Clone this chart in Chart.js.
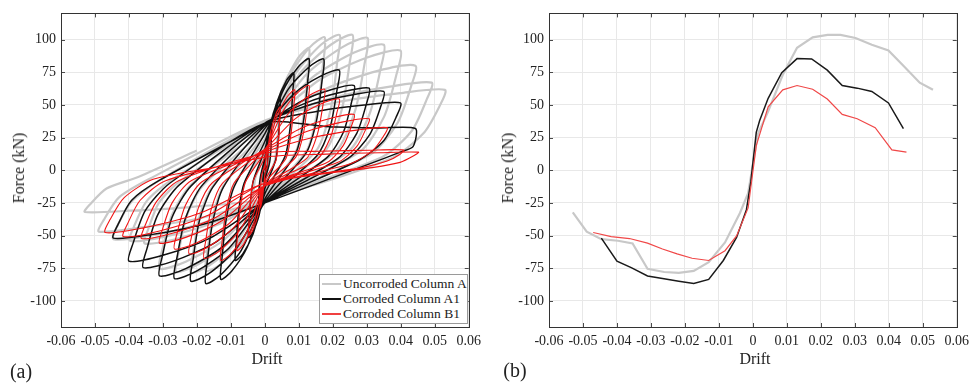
<!DOCTYPE html>
<html>
<head>
<meta charset="utf-8">
<script src="https://cdn.jsdelivr.net/npm/chart.js@4.4.1/dist/chart.umd.min.js"></script>
<style>
  body { margin: 0; background: #fff; }
  #wrap { position: relative; width: 975px; height: 385px; overflow: hidden; font-family: "Liberation Serif", "Times New Roman", serif; color: #222; }
  canvas { position: absolute; top: 0; }
  .lbl { position: absolute; white-space: nowrap; font-size: 16px; line-height: 16px; }
  .ytitle { transform: translate(-50%, -50%) rotate(-90deg); }
  .xtitle { transform: translate(-50%, -50%); }
  .panel { position: absolute; font-size: 20px; line-height: 20px; transform: translate(-50%, -50%); }
  #legend { position: absolute; left: 319px; top: 274px; width: 147px; height: 48px; border: 1px solid #9a9a9a; background: #fff; font-size: 13.5px; }
  #legend div { position: absolute; left: 2px; height: 15px; line-height: 15px; white-space: nowrap; }
  #legend span { display: inline-block; width: 19px; vertical-align: middle; margin-right: 2px; margin-top: -2px; }
</style>
</head>
<body>
<div id="wrap">
  <canvas id="hyst" width="487" height="385" style="left:0"></canvas>
  <canvas id="env" width="487" height="385" style="left:488px"></canvas>

  <div class="lbl ytitle" style="left:19px; top:168px">Force (kN)</div>
  <div class="lbl xtitle" style="left:267px; top:359px">Drift</div>
  <div class="panel" style="left:21px; top:371px">(a)</div>

  <div class="lbl ytitle" style="left:508px; top:168px">Force (kN)</div>
  <div class="lbl xtitle" style="left:755px; top:359px">Drift</div>
  <div class="panel" style="left:515px; top:370px">(b)</div>

  <div id="legend">
    <div style="top:1px"><span style="border-top:2px solid #c8c8c8"></span>Uncorroded Column A</div>
    <div style="top:16px"><span style="border-top:2px solid #111"></span>Corroded Column A1</div>
    <div style="top:31px"><span style="border-top:2px solid #f04040"></span>Corroded Column B1</div>
  </div>
</div>

<script>
const seriesNames = ['Uncorroded Column A', 'Corroded Column A1', 'Corroded Column B1'];
const xTicks = [-0.06, 0.06, 0.01];   // min, max, step
const yTicks = [-120, 120, 25];

// (a) hysteresis loops, [drift, force kN], one line per cycle
const hystA = [
  [0,0],
  [0.0006,17],[0.0011,25],[0.0015,28],[0.0014,22],[0.0013,13],[0.0011,4],[0,-5],[-0.0006,-13],[-0.0011,-16],[-0.0014,-17.6],[-0.0014,-14],[-0.0012,-8],[-0.001,-3],[0,6],
  [0.0016,26],[0.003,37],[0.004,40],[0.0039,32],[0.0035,18],[0.0028,6],[0,-10],[-0.0015,-24],[-0.0029,-30],[-0.0038,-32.7],[-0.0037,-26],[-0.0033,-15],[-0.0027,-5],[0,12],
  [0.0035,49],[0.0066,67],[0.0088,73],[0.0085,58],[0.0077,33],[0.0062,11],[0,-16],[-0.0033,-40],[-0.0062,-51],[-0.0082,-55.3],[-0.008,-44],[-0.0072,-25],[-0.0057,-8],[0,18],
  [0.0052,63],[0.0098,86],[0.013,93.5],[0.0126,75],[0.0114,42],[0.0091,14],[0,-20],[-0.0052,-50],[-0.0098,-65],[-0.013,-70.4],[-0.0126,-56],[-0.0114,-32],[-0.0091,-11],[0,24],
  [0.007,71],[0.0132,94],[0.0176,101.7],[0.0171,81],[0.0155,46],[0.0123,15],[0,-22],[-0.007,-55],[-0.013,-72],[-0.0174,-77.1],[-0.0169,-62],[-0.0153,-35],[-0.0122,-12],[0,28],
  [0.0088,73],[0.0165,96],[0.022,103.5],[0.0213,83],[0.0194,47],[0.0154,16],[0,-22],[-0.0087,-56],[-0.0164,-73],[-0.0218,-78.6],[-0.0211,-63],[-0.0192,-35],[-0.0153,-12],[0,30],
  [0.0103,74],[0.0194,96],[0.0258,103.5],[0.025,83],[0.0227,47],[0.0181,16],[0,-22],[-0.0104,-55],[-0.0196,-72],[-0.0261,-77.9],[-0.0253,-62],[-0.023,-35],[-0.0183,-12],[0,32],
  [0.0121,73],[0.0227,94],[0.0302,101.2],[0.0293,81],[0.0266,46],[0.0211,15],[0,-22],[-0.0124,-54],[-0.0233,-70],[-0.031,-75.4],[-0.0301,-60],[-0.0273,-34],[-0.0217,-11],[0,34],
  [0.014,71],[0.0263,90],[0.035,96],[0.034,77],[0.0308,43],[0.0245,14],[0,-22],[-0.0142,-42],[-0.0266,-53],[-0.0354,-56],[-0.0343,-45],[-0.0312,-25],[-0.0248,-8],[0,35],
  [0.016,69],[0.0299,86],[0.0399,91.6],[0.0387,73],[0.0351,41],[0.0279,14],[0,-22],[-0.0159,-41],[-0.0298,-51],[-0.0397,-54],[-0.0385,-43],[-0.0349,-24],[-0.0278,-8],[0,36],
  [0.0177,62],[0.0332,76],[0.0443,80],[0.043,64],[0.039,36],[0.031,12],[0,-22],[-0.0178,-40],[-0.0335,-50],[-0.0446,-52.8],[-0.0433,-42],[-0.0392,-24],[-0.0312,-8],[0,37],
  [0.0196,55],[0.0368,64],[0.0491,67],[0.0476,54],[0.0432,30],[0.0344,10],[0,-22],[-0.0196,-37],[-0.0367,-44],[-0.0489,-47],[-0.0474,-38],[-0.043,-21],[-0.0342,-7],[0,38],
  [0.0212,52],[0.0398,59],[0.053,61.5],[0.0514,49],[0.0466,28],[0.0371,9],[0,-22],[-0.0212,-28],[-0.0398,-31],[-0.053,-32],[-0.0514,-26],[-0.0466,-14],[-0.0371,-5],[-0.02,15]
];
const hystA1 = [
  [0,0],
  [0.0004,17],[0.00075,26],[0.001,29],[0.00097,23],[0.00088,13],[0.0007,4],[0,-3],[-0.00024,-6.5],[-0.00045,-8.2],[-0.0006,-8.8],[-0.0006,-7],[-0.0005,-4],[-0.0004,-1],[0,5],
  [0.0008,25],[0.0015,35],[0.002,38],[0.0019,30],[0.0018,17],[0.0014,6],[0,-8],[-0.00076,-21],[-0.0014,-28],[-0.0019,-30.2],[-0.0018,-24],[-0.0017,-14],[-0.0013,-5],[0,10],
  [0.0018,37],[0.0034,50.5],[0.0045,55],[0.0044,44],[0.004,25],[0.0032,8],[0,-14],[-0.0019,-36.5],[-0.0036,-47.8],[-0.0048,-51.5],[-0.0047,-41],[-0.0042,-23],[-0.0034,-8],[0,16],
  [0.0034,51],[0.0064,69],[0.0085,74.6],[0.0082,60],[0.0075,34],[0.006,11],[0,-18],[-0.0035,-49],[-0.0065,-64],[-0.0087,-69.1],[-0.0084,-55],[-0.0077,-31],[-0.0061,-10],[0,22],
  [0.0052,60],[0.0098,79],[0.013,85.4],[0.0126,68],[0.0114,38],[0.0091,13],[0,-22],[-0.0052,-59],[-0.0098,-77.4],[-0.013,-83.6],[-0.0126,-67],[-0.0114,-38],[-0.0091,-13],[0,28],
  [0.0069,62],[0.013,79],[0.0173,85.1],[0.0168,68],[0.0152,38],[0.0121,13],[0,-24],[-0.007,-61.6],[-0.0131,-80.4],[-0.0174,-86.7],[-0.0169,-69],[-0.0153,-39],[-0.0122,-13],[0,32],
  [0.0088,59],[0.0164,72],[0.0219,76.6],[0.0212,61],[0.0193,34],[0.0153,11],[0,-25],[-0.0087,-61],[-0.0164,-79],[-0.0218,-84.9],[-0.0211,-68],[-0.0192,-38],[-0.0153,-13],[0,34],
  [0.0105,52.5],[0.0197,61.7],[0.0263,64.8],[0.0255,52],[0.0231,29],[0.0184,10],[0,-25],[-0.0106,-59.7],[-0.02,-77.1],[-0.0266,-82.9],[-0.0258,-66],[-0.0234,-37],[-0.0186,-12],[0,35],
  [0.0123,51.7],[0.023,60],[0.0307,62.8],[0.0298,50],[0.027,28],[0.0215,9],[0,-25],[-0.0124,-58.5],[-0.0233,-75.3],[-0.031,-80.9],[-0.0301,-65],[-0.0273,-36],[-0.0217,-12],[0,36],
  [0.014,50.6],[0.0263,57.9],[0.035,60.3],[0.034,48],[0.0308,27],[0.0245,9],[0,-25],[-0.0143,-54.8],[-0.0269,-69.6],[-0.0358,-74.6],[-0.0347,-60],[-0.0315,-34],[-0.0251,-11],[0,36],
  [0.016,45.3],[0.0299,50],[0.0399,51.5],[0.0387,41],[0.0351,23],[0.0279,8],[0,-25],[-0.016,-51.8],[-0.03,-65.1],[-0.04,-69.6],[-0.0388,-56],[-0.0352,-31],[-0.028,-10],[0,36],
  [0.0177,33.5],[0.0332,32.3],[0.0443,31.9],[0.0436,18],[0.04,14],[0.031,5],[0,-25],[-0.0178,-41.2],[-0.0335,-49.3],[-0.0446,-52],[-0.0433,-42],[-0.0392,-23],[-0.0312,-8],[0,36]
];
const hystB1 = [
  [0,0],
  [0.0004,11.3],[0.00075,16.9],[0.001,18.8],[0.00097,15],[0.00088,8.5],[0.0007,3],[0,-3],[-0.00056,-18.5],[-0.00105,-26.3],[-0.0014,-28.9],[-0.0014,-23],[-0.0012,-13],[-0.001,-4],[0,4],
  [0.0018,30.7],[0.0034,44],[0.0045,48.5],[0.0044,39],[0.004,22],[0.0032,7],[0,-8],[-0.0019,-33.4],[-0.0036,-46.1],[-0.0048,-50.3],[-0.0047,-40],[-0.0042,-23],[-0.0034,-8],[0,10],
  [0.0035,40.9],[0.0066,56.4],[0.0088,61.5],[0.0085,49],[0.0077,28],[0.0062,9],[0,-10],[-0.0033,-41],[-0.0062,-56.4],[-0.0082,-61.6],[-0.008,-49],[-0.0072,-28],[-0.0057,-9],[0,14],
  [0.0052,44.5],[0.0098,59.7],[0.013,64.8],[0.0126,52],[0.0114,29],[0.0091,10],[0,-12],[-0.0052,-46.3],[-0.0098,-63.4],[-0.013,-69.1],[-0.0126,-55],[-0.0114,-31],[-0.0091,-10],[0,16],
  [0.007,43.6],[0.0132,57.4],[0.0176,62],[0.0171,50],[0.0155,28],[0.0123,9],[0,-12],[-0.0072,-45.2],[-0.0134,-61.9],[-0.0179,-67.4],[-0.0174,-54],[-0.0158,-30],[-0.0125,-10],[0,16],
  [0.0088,39.1],[0.0164,50.7],[0.0219,54.5],[0.0212,44],[0.0193,25],[0.0153,8],[0,-12],[-0.0089,-43.2],[-0.0167,-58.8],[-0.0223,-64],[-0.0216,-51],[-0.0196,-29],[-0.0156,-10],[0,16],
  [0.0105,32],[0.0197,40],[0.0263,42.7],[0.0255,34],[0.0231,19],[0.0184,6],[0,-12],[-0.0106,-41],[-0.02,-55.5],[-0.0266,-60.3],[-0.0258,-48],[-0.0234,-27],[-0.0186,-9],[0,15],
  [0.0123,29.6],[0.023,37],[0.0307,39.4],[0.0298,32],[0.027,18],[0.0215,6],[0,-12],[-0.0124,-38.3],[-0.0233,-51.4],[-0.031,-55.8],[-0.0301,-45],[-0.0273,-25],[-0.0217,-8],[0,14],
  [0.0144,25.2],[0.027,30.7],[0.036,32.6],[0.0349,26],[0.0317,15],[0.0252,5],[0,-12],[-0.0145,-36.2],[-0.0272,-48.3],[-0.0363,-52.3],[-0.0352,-42],[-0.0319,-24],[-0.0254,-8],[0,13],
  [0.0164,14.5],[0.0307,15.3],[0.0409,15.5],[0.0397,12],[0.036,7],[0.0286,2],[0,-10],[-0.0167,-34.5],[-0.0313,-46.7],[-0.0417,-50.8],[-0.0404,-41],[-0.0367,-23],[-0.0292,-8],[0,10],
  [0.0181,12.3],[0.0339,13.4],[0.0452,13.8],[0.0438,11],[0.0398,6],[0.0316,2],[0,-10],[-0.0188,-32.6],[-0.0353,-43.9],[-0.047,-47.7],[-0.0456,-38],[-0.0414,-21],[-0.0329,-7],[-0.015,2]
];

// (b) envelope curves
const envDriftA = [-0.053,-0.0489,-0.0446,-0.0397,-0.0354,-0.031,-0.0261,-0.0218,-0.0174,-0.013,-0.0082,-0.0038,-0.0014,
                   0.0015,0.0045,0.0088,0.013,0.0176,0.022,0.0258,0.0302,0.035,0.0399,0.0443,0.0491,0.053];
const envForceA = [-32.2,-47,-52.8,-54,-56,-75.4,-77.9,-78.6,-77.1,-70.4,-55.3,-32.7,-17.6,
                   28,45,73,93.7,101.7,103.5,103.5,101.2,96,91.6,80,67,61.5];
const envDriftA1 = [-0.0446,-0.04,-0.0358,-0.031,-0.0266,-0.0218,-0.0174,-0.013,-0.0087,-0.0048,-0.0019,-0.0006,
                    0.001,0.002,0.0045,0.0085,0.013,0.0173,0.0219,0.0263,0.0307,0.035,0.0399,0.0443];
const envForceA1 = [-52,-69.6,-74.6,-80.9,-82.9,-84.9,-86.7,-83.6,-69.1,-51.5,-30.2,-8.8,
                    29,38,55,74.6,85.4,85.1,76.6,64.8,62.8,60.3,51.5,31.9];
const envDriftB1 = [-0.047,-0.0417,-0.0363,-0.031,-0.0266,-0.0223,-0.0179,-0.013,-0.0082,-0.0048,-0.0014,
                    0.001,0.0045,0.0088,0.013,0.0176,0.0219,0.0263,0.0307,0.036,0.0409,0.0452];
const envForceB1 = [-47.7,-50.8,-52.3,-55.8,-60.3,-64,-67.4,-69.1,-61.6,-50.3,-28.9,
                    18.8,48.5,61.5,64.8,62,54.5,42.7,39.4,32.6,15.5,13.8];

const font = { family: '"Liberation Serif", "Times New Roman", serif', size: 14 };

function pairs(xs, ys) {
  return xs.map((x, i) => ({ x: x, y: ys[i] }));
}

function fmtDrift(v) {
  return Math.abs(v) < 1e-9 ? '0' : v.toFixed(2);
}

// box around the plot and inward tick marks, MATLAB style
const boxTicks = {
  id: 'boxTicks',
  afterDatasetsDraw(chart) {
    const { ctx, chartArea: a, scales } = chart;
    ctx.save();
    ctx.strokeStyle = '#4a4a4a';
    ctx.lineWidth = 1;
    ctx.beginPath();
    scales.x.ticks.forEach(t => {
      const px = Math.round(scales.x.getPixelForValue(t.value)) + 0.5;
      ctx.moveTo(px, a.bottom); ctx.lineTo(px, a.bottom - 4);
      ctx.moveTo(px, a.top); ctx.lineTo(px, a.top + 4);
    });
    scales.y.ticks.forEach(t => {
      const py = Math.round(scales.y.getPixelForValue(t.value)) + 0.5;
      ctx.moveTo(a.left, py); ctx.lineTo(a.left + 4, py);
      ctx.moveTo(a.right, py); ctx.lineTo(a.right - 4, py);
    });
    ctx.stroke();
    ctx.strokeStyle = '#333';
    ctx.strokeRect(Math.round(a.left) + 0.5, Math.round(a.top) + 0.5,
                   Math.round(a.right - a.left), Math.round(a.bottom - a.top));
    ctx.restore();
  }
};

function makeOptions() {
  return {
    responsive: false,
    animation: false,
    layout: { padding: { top: 9, right: 14, left: 0, bottom: 0 } },
    plugins: { legend: { display: false }, tooltip: { enabled: false } },
    elements: { point: { radius: 0 } },
    scales: {
      x: {
        type: 'linear', min: xTicks[0], max: xTicks[1],
        afterFit: s => { s.height = 58; },
        ticks: { stepSize: xTicks[2], callback: fmtDrift, font: font, color: '#222',
                 padding: 6, maxRotation: 0, autoSkip: false },
        grid: { color: '#e8e8e8', drawTicks: false },
        border: { display: false }
      },
      y: {
        type: 'linear', min: yTicks[0], max: yTicks[1],
        afterFit: s => { s.width = 61; },
        ticks: { stepSize: yTicks[2], includeBounds: false, font: font, color: '#222', padding: 5 },
        grid: { color: '#e8e8e8', drawTicks: false },
        border: { display: false }
      }
    }
  };
}

new Chart(document.getElementById('hyst'), {
  type: 'scatter',
  data: {
    datasets: [
      { label: seriesNames[0], data: hystA, showLine: true, borderColor: '#c8c8c8', borderWidth: 2.2, tension: 0.25, order: 3 },
      { label: seriesNames[1], data: hystA1, showLine: true, borderColor: '#111111', borderWidth: 1.5, tension: 0.25, order: 2 },
      { label: seriesNames[2], data: hystB1, showLine: true, borderColor: '#f01414', borderWidth: 1.1, tension: 0.25, order: 1 }
    ]
  },
  options: makeOptions(),
  plugins: [boxTicks]
});

new Chart(document.getElementById('env'), {
  type: 'scatter',
  data: {
    datasets: [
      { label: seriesNames[0], data: pairs(envDriftA, envForceA), showLine: true, borderColor: '#c8c8c8', borderWidth: 2.2, order: 3 },
      { label: seriesNames[1], data: pairs(envDriftA1, envForceA1), showLine: true, borderColor: '#1a1a1a', borderWidth: 1.5, order: 2 },
      { label: seriesNames[2], data: pairs(envDriftB1, envForceB1), showLine: true, borderColor: '#f04848', borderWidth: 1.2, order: 1 }
    ]
  },
  options: makeOptions(),
  plugins: [boxTicks]
});
</script>
</body>
</html>
